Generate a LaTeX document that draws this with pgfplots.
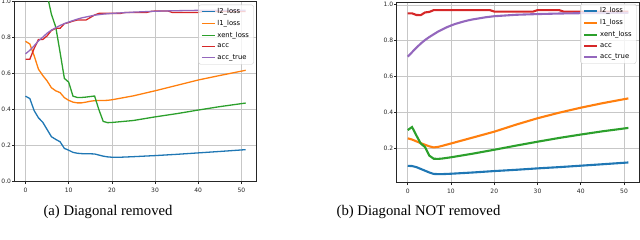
\documentclass[border=0pt]{standalone}
\usepackage{fontspec}
\setmainfont{Liberation Serif}
\newfontfamily\dejavu{DejaVu Sans}
\usepackage{pgfplots}
\usepackage{pgfplotstable}
\pgfplotsset{compat=1.18}

\definecolor{tblue}{HTML}{1F77B4}
\definecolor{torange}{HTML}{FF7F0E}
\definecolor{tgreen}{HTML}{2CA02C}
\definecolor{tred}{HTML}{D62728}
\definecolor{tpurple}{HTML}{9467BD}

% ---------- (a) Diagonal removed ----------
\pgfplotstableread{
x y
0 0.475
1 0.462
2 0.395
3 0.355
4 0.330
5 0.290
6 0.250
7 0.235
8 0.222
9 0.185
10 0.175
11 0.163
12 0.158
13 0.156
14 0.155
15 0.155
16 0.154
17 0.148
18 0.142
19 0.138
20 0.136
22 0.136
25 0.139
30 0.145
35 0.152
40 0.160
45 0.168
51 0.178
}\aLtwo
\pgfplotstableread{
x y
0 0.780
1 0.765
2 0.700
3 0.625
4 0.590
5 0.560
6 0.522
7 0.505
8 0.495
9 0.467
10 0.452
11 0.442
12 0.438
13 0.438
14 0.442
15 0.447
16 0.450
17 0.451
18 0.451
19 0.452
20 0.455
25 0.477
30 0.505
35 0.535
40 0.565
45 0.590
51 0.619
}\aLone
\pgfplotstableread{
x y
0 1.70
1 1.55
2 1.40
3 1.25
4 1.12
5 1.04
6 0.93
7 0.86
8 0.72
9 0.574
10 0.553
11 0.475
12 0.468
13 0.468
14 0.470
15 0.473
16 0.476
17 0.400
18 0.335
19 0.328
20 0.329
25 0.340
30 0.360
35 0.378
40 0.398
45 0.417
51 0.437
}\aXent
\pgfplotstableread{
x y
0 0.680
1 0.680
2 0.740
3 0.790
4 0.790
5 0.810
6 0.840
7 0.852
8 0.852
9 0.878
10 0.884
11 0.892
12 0.898
13 0.898
14 0.898
15 0.912
16 0.926
17 0.935
18 0.935
19 0.935
20 0.935
21 0.935
22 0.935
23 0.940
24 0.940
25 0.940
26 0.940
27 0.940
28 0.940
29 0.946
30 0.948
31 0.948
32 0.948
33 0.948
34 0.940
35 0.940
36 0.940
40 0.940
41 0.945
45 0.945
51 0.945
}\aAcc
\pgfplotstableread{
x y
0 0.710
1 0.730
2 0.755
3 0.782
4 0.803
5 0.825
6 0.842
7 0.855
8 0.868
9 0.878
10 0.887
11 0.895
12 0.903
13 0.910
14 0.915
15 0.920
16 0.925
17 0.928
18 0.931
20 0.935
25 0.942
30 0.947
35 0.950
40 0.952
45 0.953
51 0.953
}\aAccT

% ---------- (b) Diagonal NOT removed ----------
\pgfplotstableread{
x y
0 0.100
1 0.099
2 0.093
3 0.083
4 0.073
5 0.063
6 0.055
7 0.054
8 0.054
10 0.056
15 0.063
20 0.071
25 0.078
30 0.086
35 0.093
40 0.101
45 0.109
51 0.119
}\bLtwo
\pgfplotstableread{
x y
0 0.254
1 0.247
2 0.237
3 0.227
4 0.218
5 0.209
6 0.203
7 0.206
8 0.212
10 0.225
15 0.258
20 0.291
25 0.330
30 0.366
35 0.397
40 0.425
45 0.450
51 0.477
}\bLone
\pgfplotstableread{
x y
0 0.300
1 0.317
2 0.270
3 0.225
4 0.205
5 0.157
6 0.140
7 0.139
8 0.141
10 0.148
15 0.168
20 0.190
25 0.213
30 0.235
35 0.256
40 0.275
45 0.293
51 0.312
}\bXent
\pgfplotstableread{
x y
0 0.952
1 0.952
2 0.943
3 0.942
4 0.957
5 0.960
6 0.970
19 0.970
20 0.962
29 0.962
30 0.970
35 0.970
36 0.962
51 0.962
}\bAcc
\pgfplotstableread{
x y
0 0.710
1 0.735
2 0.760
3 0.783
4 0.803
5 0.820
6 0.835
7 0.850
8 0.862
9 0.874
10 0.884
11 0.893
12 0.900
13 0.907
14 0.913
15 0.918
16 0.922
17 0.926
18 0.930
20 0.936
25 0.944
30 0.948
35 0.951
40 0.953
51 0.955
}\bAccT

\pgfplotsset{mystyle/.style={
  scale only axis,
  xmin=-2.55, xmax=53.55,
  axis line style={line width=0.6pt, black!85},
  grid=major, grid style={line width=0.5pt, black!22},
  tick align=outside, tick pos=left,
  major tick length=2.5pt,
  tick style={line width=0.6pt, black!85},
  xtick={0,10,20,30,40,50},
  ytick={0,0.2,0.4,0.6,0.8,1.0},
  tick label style={font=\dejavu\fontsize{6}{7}\selectfont, text=black!85},
  /pgf/number format/assume math mode=true,
  yticklabel style={inner xsep=0.8pt, /pgf/number format/.cd, fixed, fixed zerofill, precision=1},
  xticklabel style={/pgf/number format/.cd, fixed, precision=0},
  legend cell align=left,
  legend style={at={(rel axis cs:1,1)}, anchor=north east, xshift=-3pt, yshift=-3pt,
    font=\dejavu\fontsize{6.8}{7.5}\selectfont, draw=black!20, fill=white,
    fill opacity=0.8, text opacity=1, rounded corners=2pt,
    inner xsep=2.5pt, inner ysep=1.5pt, row sep=1.2pt},
  legend image code/.code={\draw[#1] (0pt,0pt) -- (13pt,0pt);},
  every axis plot/.append style={no markers},
}}

\begin{document}
\begin{tikzpicture}
\begin{axis}[mystyle, at={(14.5pt,58.3pt)}, anchor=south west,
  width=242.2pt, height=180pt, ymin=0, ymax=1]
\addplot[tblue, line width=1.3pt] table {\aLtwo};
\addplot[torange, line width=1.3pt] table {\aLone};
\addplot[tgreen, line width=1.3pt] table {\aXent};
\addplot[tred, line width=1.3pt] table {\aAcc};
\addplot[tpurple, line width=1.3pt] table {\aAccT};
\legend{l2\_loss, l1\_loss, xent\_loss, acc, acc\_true}
\end{axis}
\begin{axis}[mystyle, at={(396.7pt,57.3pt)}, anchor=south west,
  width=242.7pt, height=180.8pt, ymin=0.006, ymax=1.016,
  legend style={xshift=0pt, yshift=1pt}]
\addplot[tblue, line width=2.1pt] table {\bLtwo};
\addplot[torange, line width=2.1pt] table {\bLone};
\addplot[tgreen, line width=2.1pt] table {\bXent};
\addplot[tred, line width=2.1pt] table {\bAcc};
\addplot[tpurple, line width=2.1pt] table {\bAccT};
\legend{l2\_loss, l1\_loss, xent\_loss, acc, acc\_true}
\end{axis}
\node[font=\fontsize{14.7}{17}\selectfont] at (108pt,28pt) {(a) Diagonal removed};
\node[font=\fontsize{14.7}{17}\selectfont] at (418.5pt,28pt) {(b) Diagonal NOT removed};
\pgfresetboundingbox
\path[use as bounding box] (0pt,0pt) rectangle (640pt,240pt);
\end{tikzpicture}
\end{document}
